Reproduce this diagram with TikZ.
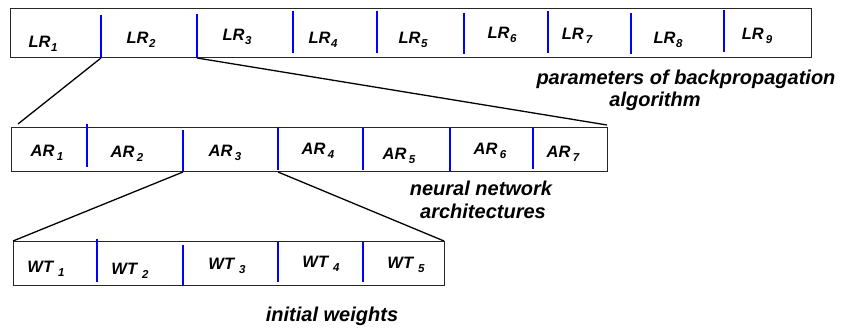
\documentclass[tikz,border=0pt]{standalone}
\usepackage{fontspec}
\setmainfont{Liberation Sans}
\newcommand{\sublbl}[3]{#1\kern#3\raisebox{-3.5pt}{\fontsize{11.5}{11.5}\selectfont #2}}
\begin{document}
\begin{tikzpicture}[x=1pt,y=-1pt,
  box/.style={draw=black!85, line width=1pt, fill=white, inner sep=0pt, rectangle},
  div/.style={draw=blue, line width=1.6pt},
  conn/.style={draw=black, line width=1.3pt},
  lbl/.style={font=\fontsize{16.5}{16.5}\selectfont\bfseries\itshape, anchor=base, inner sep=0pt},
  note/.style={font=\fontsize{20}{22}\selectfont\bfseries\itshape, anchor=base, inner sep=0pt}]
\useasboundingbox (0,0) rectangle (851,328);
% boxes
\node[box, minimum width=801pt, minimum height=49pt] (lrbox) at (410.5,33.5) {};
\node[box, minimum width=596pt, minimum height=44pt] (arbox) at (309,150) {};
\node[box, minimum width=431pt, minimum height=44pt] (wtbox) at (228.5,264) {};
% dividers, top row
\draw[div] (101,15) -- (101,58);
\draw[div] (197,14) -- (197,58);
\draw[div] (293,11) -- (293,53);
\draw[div] (377,11) -- (377,53);
\draw[div] (464,13) -- (464,54);
\draw[div] (548,11) -- (548,53);
\draw[div] (631,13) -- (631,54);
\draw[div] (724,10) -- (724,52);
% dividers, middle row
\draw[div] (87,124) -- (87,167);
\draw[div] (183,130) -- (183,172);
\draw[div] (278,127) -- (278,170);
\draw[div] (363,128) -- (363,170);
\draw[div] (450,128) -- (450,171);
\draw[div] (533,127) -- (533,169);
% dividers, bottom row
\draw[div] (97,239) -- (97,282);
\draw[div] (183,245) -- (183,286);
\draw[div] (278,242) -- (278,282);
\draw[div] (363,242) -- (363,282);
% connector ends
\coordinate (lrA) at (101,58);
\coordinate (lrB) at (197,58);
\coordinate (arTL) at (18,124);
\coordinate (arTR) at (607,125);
\coordinate (arA) at (183,172);
\coordinate (arB) at (278,172);
\coordinate (wtTL) at (13,241);
\coordinate (wtTR) at (444,241);
\draw[conn] (lrA) -- (arTL);
\draw[conn] (lrB) -- (arTR);
\draw[conn] (arA) -- (wtTL);
\draw[conn] (arB) -- (wtTR);
% labels top
\node[lbl] (lr1) at (43,48) {\sublbl{LR}{1}{0.5pt}};
\node[lbl] (lr2) at (141,44) {\sublbl{LR}{2}{0.5pt}};
\node[lbl] (lr3) at (237,41) {\sublbl{LR}{3}{0.5pt}};
\node[lbl] (lr4) at (323,44) {\sublbl{LR}{4}{0.5pt}};
\node[lbl] (lr5) at (413,44) {\sublbl{LR}{5}{0.5pt}};
\node[lbl] (lr6) at (502,39) {\sublbl{LR}{6}{0.5pt}};
\node[lbl] (lr7) at (577,40) {\sublbl{LR}{7}{2pt}};
\node[lbl] (lr8) at (668,44) {\sublbl{LR}{8}{0.5pt}};
\node[lbl] (lr9) at (757,40) {\sublbl{LR}{9}{2pt}};
% labels middle
\node[lbl] (ar1) at (47,157) {\sublbl{AR}{1}{2.5pt}};
\node[lbl] (ar2) at (127,158) {\sublbl{AR}{2}{2.5pt}};
\node[lbl] (ar3) at (225,157) {\sublbl{AR}{3}{2.5pt}};
\node[lbl] (ar4) at (318,155) {\sublbl{AR}{4}{2.5pt}};
\node[lbl] (ar5) at (399,160) {\sublbl{AR}{5}{2.5pt}};
\node[lbl] (ar6) at (490,155) {\sublbl{AR}{6}{2.5pt}};
\node[lbl] (ar7) at (563,158) {\sublbl{AR}{7}{2.5pt}};
% labels bottom
\node[lbl] (wt1) at (46,273) {\sublbl{WT}{1}{5pt}};
\node[lbl] (wt2) at (130,275) {\sublbl{WT}{2}{5pt}};
\node[lbl] (wt3) at (227,270) {\sublbl{WT}{3}{5pt}};
\node[lbl] (wt4) at (321,268) {\sublbl{WT}{4}{5pt}};
\node[lbl] (wt5) at (406,269) {\sublbl{WT}{5}{5pt}};
% notes
\node[note] (n1a) at (686,85) {parameters of backpropagation};
\node[note] (n1b) at (655,107) {algorithm};
\node[note] (n2a) at (481,196) {neural network};
\node[note] (n2b) at (483,219) {architectures};
\node[note] (n3) at (332,322) {initial weights};
\end{tikzpicture}
\end{document}
